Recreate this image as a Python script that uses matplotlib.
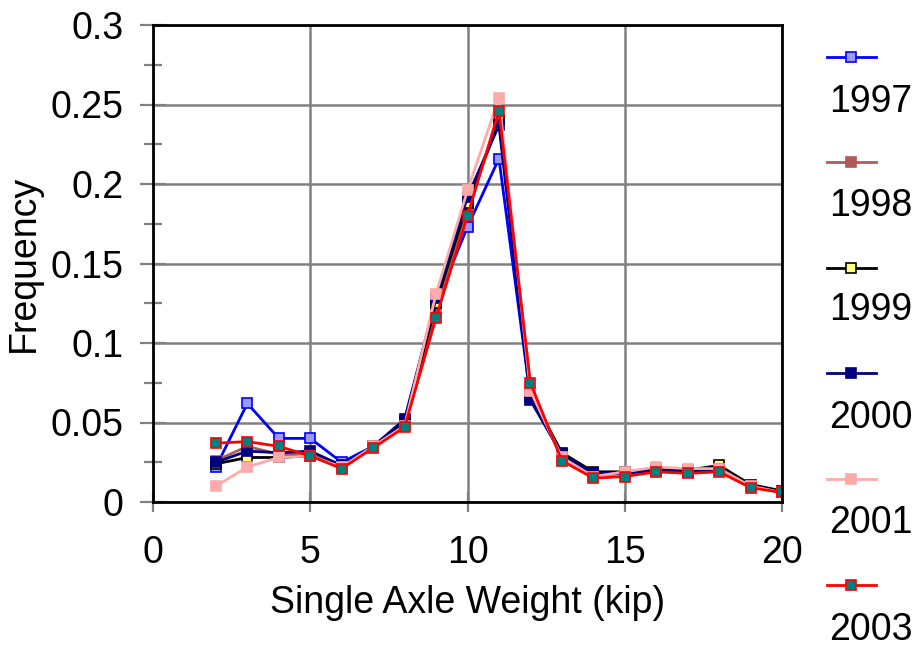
import matplotlib
matplotlib.use("Agg")
import matplotlib.pyplot as plt
from matplotlib.lines import Line2D
from matplotlib.ticker import MultipleLocator

plt.rcParams['font.family'] = ['Liberation Sans', 'DejaVu Sans']

weights = list(range(2, 21))
years = ["1997", "1998", "1999", "2000", "2001", "2003"]
f1997 = [0.022, 0.062, 0.040, 0.040, 0.025, 0.035, 0.051, 0.125, 0.173, 0.216, 0.066, 0.029, 0.017, 0.018, 0.020, 0.019, 0.021, 0.010, 0.006]
f1998 = [0.026, 0.035, 0.030, 0.030, 0.022, 0.035, 0.049, 0.120, 0.185, 0.240, 0.070, 0.029, 0.017, 0.018, 0.020, 0.019, 0.021, 0.010, 0.006]
f1999 = [0.024, 0.028, 0.028, 0.029, 0.022, 0.035, 0.050, 0.125, 0.188, 0.240, 0.068, 0.031, 0.019, 0.019, 0.021, 0.020, 0.023, 0.011, 0.007]
f2000 = [0.025, 0.032, 0.031, 0.032, 0.023, 0.035, 0.052, 0.128, 0.192, 0.237, 0.064, 0.030, 0.018, 0.018, 0.020, 0.019, 0.021, 0.010, 0.006]
f2001 = [0.010, 0.022, 0.028, 0.029, 0.022, 0.035, 0.048, 0.131, 0.196, 0.254, 0.070, 0.028, 0.016, 0.019, 0.022, 0.021, 0.021, 0.010, 0.006]
f2003 = [0.037, 0.038, 0.035, 0.029, 0.021, 0.034, 0.047, 0.116, 0.180, 0.246, 0.075, 0.026, 0.015, 0.016, 0.019, 0.018, 0.019, 0.009, 0.006]
series = [f1997, f1998, f1999, f2000, f2001, f2003]

styles = [
    dict(color="#0000FF", mfc="#9999FF", mec="#0000FF"),
    dict(color="#B05A5A", mfc="#B05A5A", mec="#B05A5A"),
    dict(color="#000000", mfc="#FFFF80", mec="#000000"),
    dict(color="#000080", mfc="#000080", mec="#000080"),
    dict(color="#FFAAAA", mfc="#FFAAAA", mec="#FFAAAA"),
    dict(color="#FF0000", mfc="#008080", mec="#FF0000"),
]

fig = plt.figure(figsize=(9.19, 6.48), dpi=100)
ax = fig.add_axes([153/919, 1-502/648, (782-153)/919, (502-25)/648])

for vals, st in zip(series, styles):
    ax.plot(weights, vals, color=st["color"], lw=2.0, marker="s", ms=6.5,
            mfc=st["mfc"], mec=st["mec"], mew=1.2)

ax.set_xlim(0, 20)
ax.set_ylim(0, 0.3)
ax.xaxis.set_major_locator(MultipleLocator(5))
ax.yaxis.set_minor_locator(MultipleLocator(0.025))
ax.set_yticks([0, 0.05, 0.1, 0.15, 0.2, 0.25, 0.3])
ax.set_yticklabels(["0", "0.05", "0.1", "0.15", "0.2", "0.25", "0.3"])
ax.grid(True, which="major", color="#808080", lw=1.8)
ax.set_axisbelow(True)
for s in ax.spines.values():
    s.set_color("black")
    s.set_linewidth(2)
ax.tick_params(axis="y", which="major", direction="inout", length=19, width=1.6, color="#808080",
               labelsize=27, pad=12)
ax.tick_params(axis="y", which="minor", direction="inout", length=13, width=1.6, color="#808080")
ax.tick_params(axis="x", which="major", direction="inout", length=14, width=1.6, color="#808080",
               labelsize=27, pad=17)
ax.set_xlabel("Single Axle Weight (kip)", fontsize=27, labelpad=10)
ax.set_ylabel("Frequency", fontsize=27, labelpad=6)

# legend drawn at right: line sample above, label below
line_y = [57, 162, 268, 373, 479, 585]
text_y = [102, 206, 310, 418, 523, 630]
for yr, st, ly, ty in zip(years, styles, line_y, text_y):
    fig.add_artist(Line2D([827/919, 876/919], [1-ly/648, 1-ly/648], transform=fig.transFigure,
                          color=st["color"], lw=2.0))
    fig.add_artist(Line2D([851/919], [1-ly/648], transform=fig.transFigure, marker="s", ms=6.5,
                          mfc=st["mfc"], mec=st["mec"], mew=1.2, color=st["color"]))
    fig.text(829/919, 1-ty/648, yr, fontsize=27, ha="left", va="center")

fig.savefig("out.png", dpi=100)
